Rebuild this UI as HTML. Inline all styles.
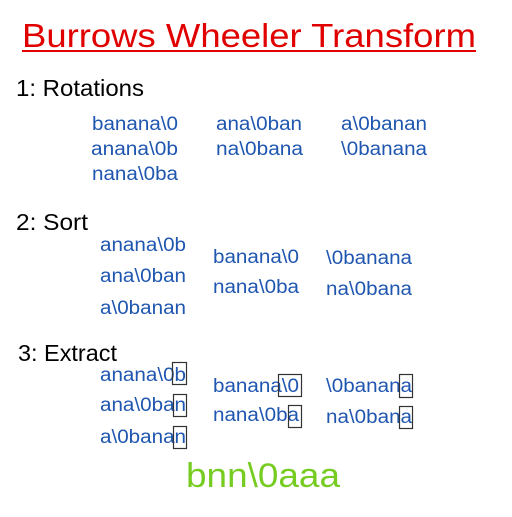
<!DOCTYPE html>
<html><head><style>html,body{margin:0;padding:0;background:#fff}</style></head>
<body>
<svg width="512" height="512" xmlns="http://www.w3.org/2000/svg" font-family="Liberation Sans, sans-serif">
<text x="22" y="47" font-size="33" fill="#e00000" textLength="454" lengthAdjust="spacingAndGlyphs">Burrows Wheeler Transform</text>
<rect x="22" y="50" width="454" height="2" fill="#e00000"/>
<g font-size="23" fill="#000">
<text x="16" y="96" textLength="128" lengthAdjust="spacingAndGlyphs">1: Rotations</text>
<text x="16" y="230" textLength="72" lengthAdjust="spacingAndGlyphs">2: Sort</text>
<text x="18" y="361" textLength="99" lengthAdjust="spacingAndGlyphs">3: Extract</text>
</g>
<g font-size="19" fill="#1f56b0">
<text x="92" y="130" textLength="86" lengthAdjust="spacingAndGlyphs">banana\0</text>
<text x="91" y="155" textLength="87" lengthAdjust="spacingAndGlyphs">anana\0b</text>
<text x="92" y="180" textLength="86" lengthAdjust="spacingAndGlyphs">nana\0ba</text>
<text x="216" y="130" textLength="86" lengthAdjust="spacingAndGlyphs">ana\0ban</text>
<text x="216" y="155" textLength="87" lengthAdjust="spacingAndGlyphs">na\0bana</text>
<text x="341" y="130" textLength="86" lengthAdjust="spacingAndGlyphs">a\0banan</text>
<text x="341" y="155" textLength="86" lengthAdjust="spacingAndGlyphs">\0banana</text>

<text x="100" y="251" textLength="86" lengthAdjust="spacingAndGlyphs">anana\0b</text>
<text x="100" y="282" textLength="86" lengthAdjust="spacingAndGlyphs">ana\0ban</text>
<text x="100" y="314" textLength="86" lengthAdjust="spacingAndGlyphs">a\0banan</text>
<text x="213" y="263" textLength="86" lengthAdjust="spacingAndGlyphs">banana\0</text>
<text x="213" y="293" textLength="86" lengthAdjust="spacingAndGlyphs">nana\0ba</text>
<text x="326" y="264" textLength="86" lengthAdjust="spacingAndGlyphs">\0banana</text>
<text x="326" y="295" textLength="86" lengthAdjust="spacingAndGlyphs">na\0bana</text>

<text x="100" y="381" textLength="86" lengthAdjust="spacingAndGlyphs">anana\0b</text>
<text x="100" y="411" textLength="86" lengthAdjust="spacingAndGlyphs">ana\0ban</text>
<text x="100" y="443" textLength="86" lengthAdjust="spacingAndGlyphs">a\0banan</text>
<text x="213" y="392" textLength="86" lengthAdjust="spacingAndGlyphs">banana\0</text>
<text x="213" y="421" textLength="86" lengthAdjust="spacingAndGlyphs">nana\0ba</text>
<text x="326" y="392" textLength="86" lengthAdjust="spacingAndGlyphs">\0banana</text>
<text x="326" y="423" textLength="86" lengthAdjust="spacingAndGlyphs">na\0bana</text>
</g>
<g fill="none" stroke="#333" stroke-width="1.2">
<rect x="172.5" y="362.5" width="14" height="22"/>
<rect x="173.5" y="394.5" width="13" height="22"/>
<rect x="173.5" y="426.5" width="13" height="22"/>
<rect x="278.5" y="374.5" width="23" height="22"/>
<rect x="288.5" y="405.5" width="13" height="22"/>
<rect x="399.5" y="374.5" width="13" height="23"/>
<rect x="399.5" y="406.5" width="13" height="22"/>
</g>
<text x="186" y="487" font-size="34" fill="#77cc22" textLength="154" lengthAdjust="spacingAndGlyphs">bnn\0aaa</text>
</svg>
</body></html>
